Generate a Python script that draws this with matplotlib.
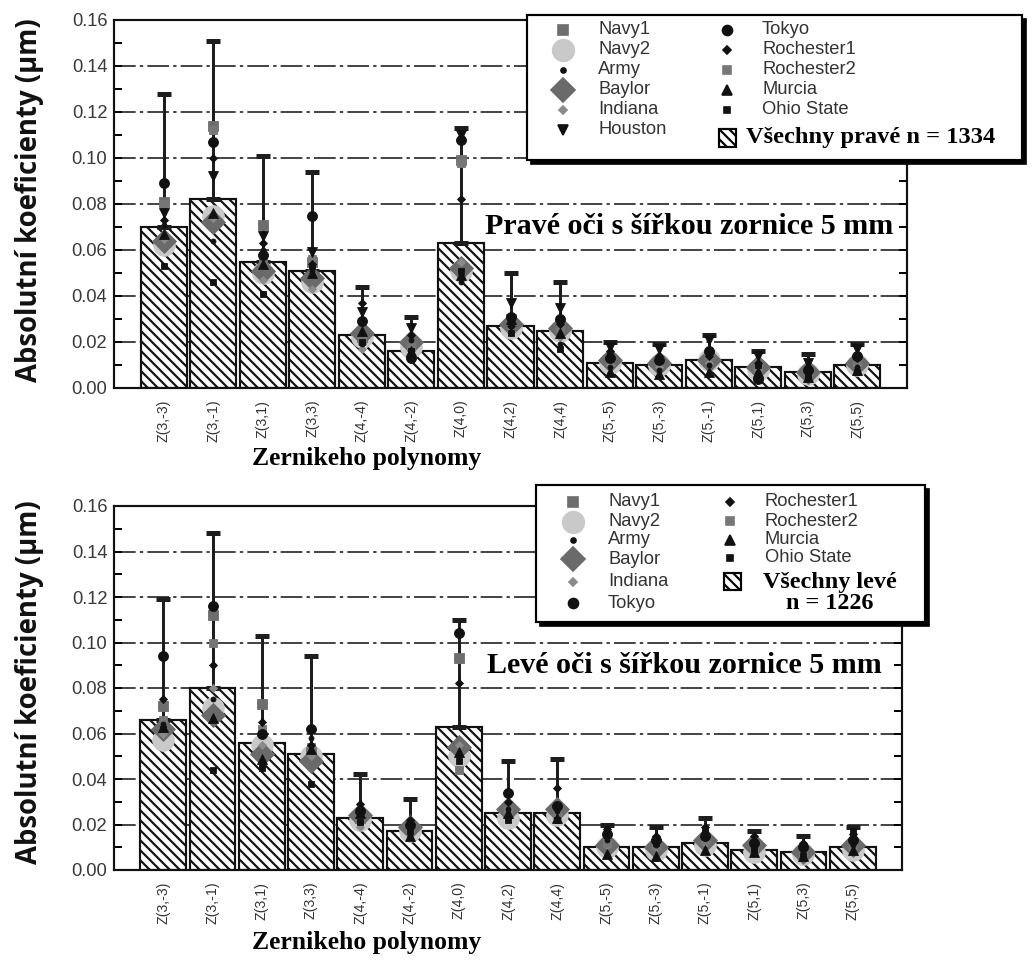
import matplotlib.pyplot as plt
from matplotlib.lines import Line2D
from matplotlib.patches import Rectangle
from matplotlib.ticker import MultipleLocator, FormatStrFormatter

# 1. Data - Zernikeho koeficienty (um), pravé a levé oči, zornice 5 mm
koeficienty = ['Z(3,-3)', 'Z(3,-1)', 'Z(3,1)', 'Z(3,3)', 'Z(4,-4)', 'Z(4,-2)', 'Z(4,0)',
               'Z(4,2)', 'Z(4,4)', 'Z(5,-5)', 'Z(5,-3)', 'Z(5,-1)', 'Z(5,1)', 'Z(5,3)', 'Z(5,5)']

# všechny oči dohromady (sloupce) + směrodatná odchylka (horní chybová úsečka)
vsechny_prave = [0.070, 0.082, 0.055, 0.051, 0.023, 0.016, 0.063, 0.027, 0.025, 0.011, 0.010, 0.012, 0.009, 0.007, 0.010]
sd_prave      = [0.058, 0.069, 0.046, 0.043, 0.021, 0.015, 0.050, 0.023, 0.021, 0.009, 0.009, 0.011, 0.007, 0.008, 0.009]
vsechny_leve  = [0.066, 0.080, 0.056, 0.051, 0.023, 0.017, 0.063, 0.025, 0.025, 0.010, 0.010, 0.012, 0.009, 0.008, 0.010]
sd_leve       = [0.053, 0.068, 0.047, 0.043, 0.019, 0.014, 0.047, 0.023, 0.024, 0.010, 0.009, 0.011, 0.008, 0.007, 0.009]

# jednotlivé studie - pravé oči
navy1_p    = [0.081, 0.114, 0.071, 0.055, 0.022, 0.019, 0.099, 0.030, 0.027, 0.012, 0.011, 0.014, 0.009, 0.008, 0.011]
navy2_p    = [0.062, 0.075, 0.050, 0.046, 0.022, 0.018, 0.051, 0.026, 0.025, 0.011, 0.010, 0.012, 0.008, 0.006, 0.010]
army_p     = [0.071, 0.064, 0.060, 0.051, 0.019, 0.021, 0.046, 0.029, 0.019, 0.009, 0.008, 0.010, 0.007, 0.006, 0.009]
baylor_p   = [0.064, 0.072, 0.051, 0.048, 0.024, 0.020, 0.052, 0.028, 0.026, 0.012, 0.011, 0.012, 0.009, 0.007, 0.011]
indiana_p  = [0.065, 0.074, 0.047, 0.043, 0.017, 0.017, 0.055, 0.025, 0.022, 0.010, 0.009, 0.011, 0.008, 0.006, 0.010]
houston_p  = [0.076, 0.092, 0.066, 0.059, 0.033, 0.026, 0.110, 0.037, 0.035, 0.018, 0.017, 0.021, 0.014, 0.011, 0.017]
tokyo_p    = [0.089, 0.107, 0.058, 0.075, 0.029, 0.013, 0.108, 0.031, 0.030, 0.013, 0.012, 0.016, 0.004, 0.008, 0.014]
roch1_p    = [0.073, 0.100, 0.063, 0.054, 0.037, 0.023, 0.082, 0.027, 0.028, 0.016, 0.014, 0.014, 0.011, 0.009, 0.013]
roch2_p    = [0.080, 0.112, 0.055, 0.056, 0.021, 0.018, 0.098, 0.028, 0.026, 0.013, 0.012, 0.015, 0.010, 0.008, 0.012]
murcia_p   = [0.067, 0.076, 0.054, 0.050, 0.025, 0.016, 0.049, 0.030, 0.024, 0.007, 0.006, 0.007, 0.007, 0.005, 0.008]
ohio_p     = [0.053, 0.046, 0.041, 0.053, 0.020, 0.016, 0.051, 0.024, 0.017, 0.014, 0.013, 0.015, 0.010, 0.005, 0.007]

# jednotlivé studie - levé oči (Houston chybí)
navy1_l    = [0.072, 0.112, 0.073, 0.052, 0.023, 0.019, 0.093, 0.026, 0.026, 0.012, 0.011, 0.014, 0.010, 0.009, 0.011]
navy2_l    = [0.057, 0.071, 0.055, 0.050, 0.022, 0.017, 0.050, 0.023, 0.024, 0.010, 0.009, 0.011, 0.008, 0.007, 0.009]
army_l     = [0.064, 0.075, 0.046, 0.058, 0.021, 0.015, 0.050, 0.027, 0.026, 0.013, 0.011, 0.014, 0.009, 0.008, 0.011]
baylor_l   = [0.062, 0.068, 0.051, 0.048, 0.024, 0.019, 0.054, 0.027, 0.027, 0.011, 0.010, 0.013, 0.011, 0.008, 0.011]
indiana_l  = [0.060, 0.080, 0.055, 0.050, 0.019, 0.018, 0.055, 0.025, 0.025, 0.011, 0.010, 0.012, 0.009, 0.008, 0.010]
tokyo_l    = [0.094, 0.116, 0.060, 0.062, 0.026, 0.020, 0.104, 0.034, 0.028, 0.016, 0.013, 0.015, 0.012, 0.010, 0.013]
roch1_l    = [0.075, 0.090, 0.065, 0.055, 0.029, 0.022, 0.082, 0.030, 0.036, 0.018, 0.015, 0.019, 0.015, 0.012, 0.016]
roch2_l    = [0.066, 0.100, 0.062, 0.054, 0.024, 0.018, 0.044, 0.026, 0.024, 0.012, 0.011, 0.013, 0.009, 0.008, 0.010]
murcia_l   = [0.063, 0.067, 0.049, 0.053, 0.025, 0.015, 0.052, 0.025, 0.023, 0.007, 0.006, 0.009, 0.008, 0.006, 0.009]
ohio_l     = [0.062, 0.044, 0.045, 0.038, 0.021, 0.017, 0.048, 0.022, 0.022, 0.017, 0.012, 0.017, 0.009, 0.006, 0.017]

# styl značek: (marker, barva, velikost, zorder)
styly = {
    'Navy1':      ('s', '#6e6e6e', 6.0, 6),
    'Navy2':      ('o', '#c9c9c9', 13.0, 4),
    'Army':       ('o', '#111111', 3.0, 9),
    'Baylor':     ('D', '#6a6a6a', 10.0, 5),
    'Indiana':    ('D', '#8a8a8a', 3.8, 7),
    'Houston':    ('v', '#111111', 6.0, 8),
    'Tokyo':      ('o', '#111111', 6.0, 8),
    'Rochester1': ('D', '#111111', 3.0, 9),
    'Rochester2': ('s', '#777777', 4.5, 7),
    'Murcia':     ('^', '#111111', 6.0, 8),
    'Ohio State': ('s', '#111111', 4.0, 9),
}

HATCH = '\\\\\\\\'
plt.rcParams['hatch.linewidth'] = 1.3
plt.rcParams['font.family'] = ['Liberation Sans', 'DejaVu Sans']

W, H = 1035, 967
fig = plt.figure(figsize=(W / 120, H / 120), dpi=120)


def fx(px):
    return px / W


def fy(py):
    return 1 - py / H


def legenda(box, sloupce, ctverec, popis, popis_xy, popis_size):
    # rámeček se stínem
    x0, y0, x1, y1 = box
    fig.add_artist(Rectangle((fx(x0 + 4), fy(y1 + 4)), fx(x1) - fx(x0), fy(y0) - fy(y1),
                             transform=fig.transFigure, facecolor='black', edgecolor='black', zorder=20))
    fig.add_artist(Rectangle((fx(x0), fy(y1)), fx(x1) - fx(x0), fy(y0) - fy(y1),
                             transform=fig.transFigure, facecolor='white', edgecolor='black',
                             linewidth=1.3, zorder=21))
    for mx, tx, polozky in sloupce:
        for nazev, ry in polozky:
            m, c, ms, _ = styly[nazev]
            fig.add_artist(Line2D([fx(mx)], [fy(ry)], transform=fig.transFigure, ls='none',
                                  marker=m, color=c, ms=ms, mec=c, zorder=22))
            fig.text(fx(tx), fy(ry), nazev, ha='left', va='center', fontsize=11,
                     color='#333333', zorder=23)
    cx, cy = ctverec
    s = 17
    fig.add_artist(Rectangle((fx(cx - s / 2), fy(cy + s / 2)), s / W, s / H, transform=fig.transFigure,
                             facecolor='white', edgecolor='black', hatch=HATCH, linewidth=1.3, zorder=22))
    px_, py_, ha = popis_xy
    fig.text(fx(px_), fy(py_), popis, ha=ha, va='center', ma='center', fontsize=popis_size,
             fontweight='bold', fontfamily='Liberation Serif', linespacing=1.05, zorder=23)


def graf(rect, prumer, sd, studie, text_oci, y_text, x_text):
    ax = fig.add_axes(rect)
    x = list(range(len(koeficienty)))

    ax.bar(x, prumer, width=0.93, color='white', edgecolor='#111111', linewidth=1.3,
           hatch=HATCH, zorder=2)
    ax.errorbar(x, prumer, yerr=[[0] * len(sd), sd], fmt='none', ecolor='#1e1e1e',
                elinewidth=1.8, capsize=4, capthick=3, zorder=3)

    for nazev, hodnoty in studie.items():
        m, c, ms, z = styly[nazev]
        ax.plot(x, hodnoty, ls='none', marker=m, color=c, ms=ms, mec=c, mew=0.5, zorder=z)

    ax.set_xlim(-1, 15)
    ax.set_ylim(0, 0.16)
    ax.yaxis.set_major_locator(MultipleLocator(0.02))
    ax.yaxis.set_minor_locator(MultipleLocator(0.01))
    ax.yaxis.set_major_formatter(FormatStrFormatter('%.2f'))
    ax.set_xticks(x)
    ax.set_xticklabels(koeficienty, rotation=90, fontsize=8.5, color='#333333')
    ax.tick_params(axis='x', length=0, pad=7)
    ax.tick_params(axis='y', which='both', direction='in', right=True, labelsize=11,
                   labelcolor='#3a3a3a', pad=4, width=1.2, length=5)
    for sp in ax.spines.values():
        sp.set_linewidth(1.3)
        sp.set_color('#111111')

    ax.set_axisbelow(True)
    ax.yaxis.grid(True, which='major', linestyle=(0, (13, 2.5, 2, 2.5)), color='#222222', lw=1.0)

    ax.text(x_text, y_text, text_oci, ha='right', va='center', fontsize=18, fontweight='bold',
            fontfamily='Liberation Serif', zorder=10)
    return ax


studie_prave = {'Navy1': navy1_p, 'Navy2': navy2_p, 'Army': army_p, 'Baylor': baylor_p,
                'Indiana': indiana_p, 'Houston': houston_p, 'Tokyo': tokyo_p,
                'Rochester1': roch1_p, 'Rochester2': roch2_p, 'Murcia': murcia_p,
                'Ohio State': ohio_p}
studie_leve = {'Navy1': navy1_l, 'Navy2': navy2_l, 'Army': army_l, 'Baylor': baylor_l,
               'Indiana': indiana_l, 'Tokyo': tokyo_l, 'Rochester1': roch1_l,
               'Rochester2': roch2_l, 'Murcia': murcia_l, 'Ohio State': ohio_l}

# 2. Horní graf - pravé oči
graf([fx(114), fy(388), (907 - 114) / W, (388 - 20) / H], vsechny_prave, sd_prave,
     studie_prave, 'Pravé oči s šířkou zornice 5 mm', 0.070, 14.72)
legenda((527, 15, 1022, 160),
        [(563, 598, list(zip(['Navy1', 'Navy2', 'Army', 'Baylor', 'Indiana', 'Houston'],
                             [30, 50, 70, 90, 110, 130]))),
         (727, 762, list(zip(['Tokyo', 'Rochester1', 'Rochester2', 'Murcia', 'Ohio State'],
                             [30, 50, 70, 90, 110])))],
        (727, 138), 'Všechny pravé n = 1334', (746, 137, 'left'), 14.6)

# 3. Dolní graf - levé oči
graf([fx(114), fy(870), (902 - 114) / W, (870 - 506) / H], vsechny_leve, sd_leve,
     studie_leve, 'Levé oči s šířkou zornice 5 mm', 0.090, 14.58)
legenda((536, 485, 925, 622),
        [(573, 608, list(zip(['Navy1', 'Navy2', 'Army', 'Baylor', 'Indiana', 'Tokyo'],
                             [502, 522, 540, 559, 582, 603]))),
         (730, 765, list(zip(['Rochester1', 'Rochester2', 'Murcia', 'Ohio State'],
                             [502, 521, 540, 558])))],
        (732, 581), 'Všechny levé\nn = 1226', (830, 593, 'center'), 14.5)

# popisky os
for yc in (200, 682):
    fig.text(fx(30), fy(yc), 'Absolutní koeficienty (µm)', rotation=90, ha='center', va='center',
             fontsize=16.5, fontweight='bold', fontfamily='Open Sans', color='#111111')
for yc in (459, 942):
    fig.text(fx(367), fy(yc), 'Zernikeho polynomy', ha='center', va='center',
             fontsize=15.4, fontweight='bold', fontfamily='Liberation Serif')

plt.savefig('out.png', dpi=120)
